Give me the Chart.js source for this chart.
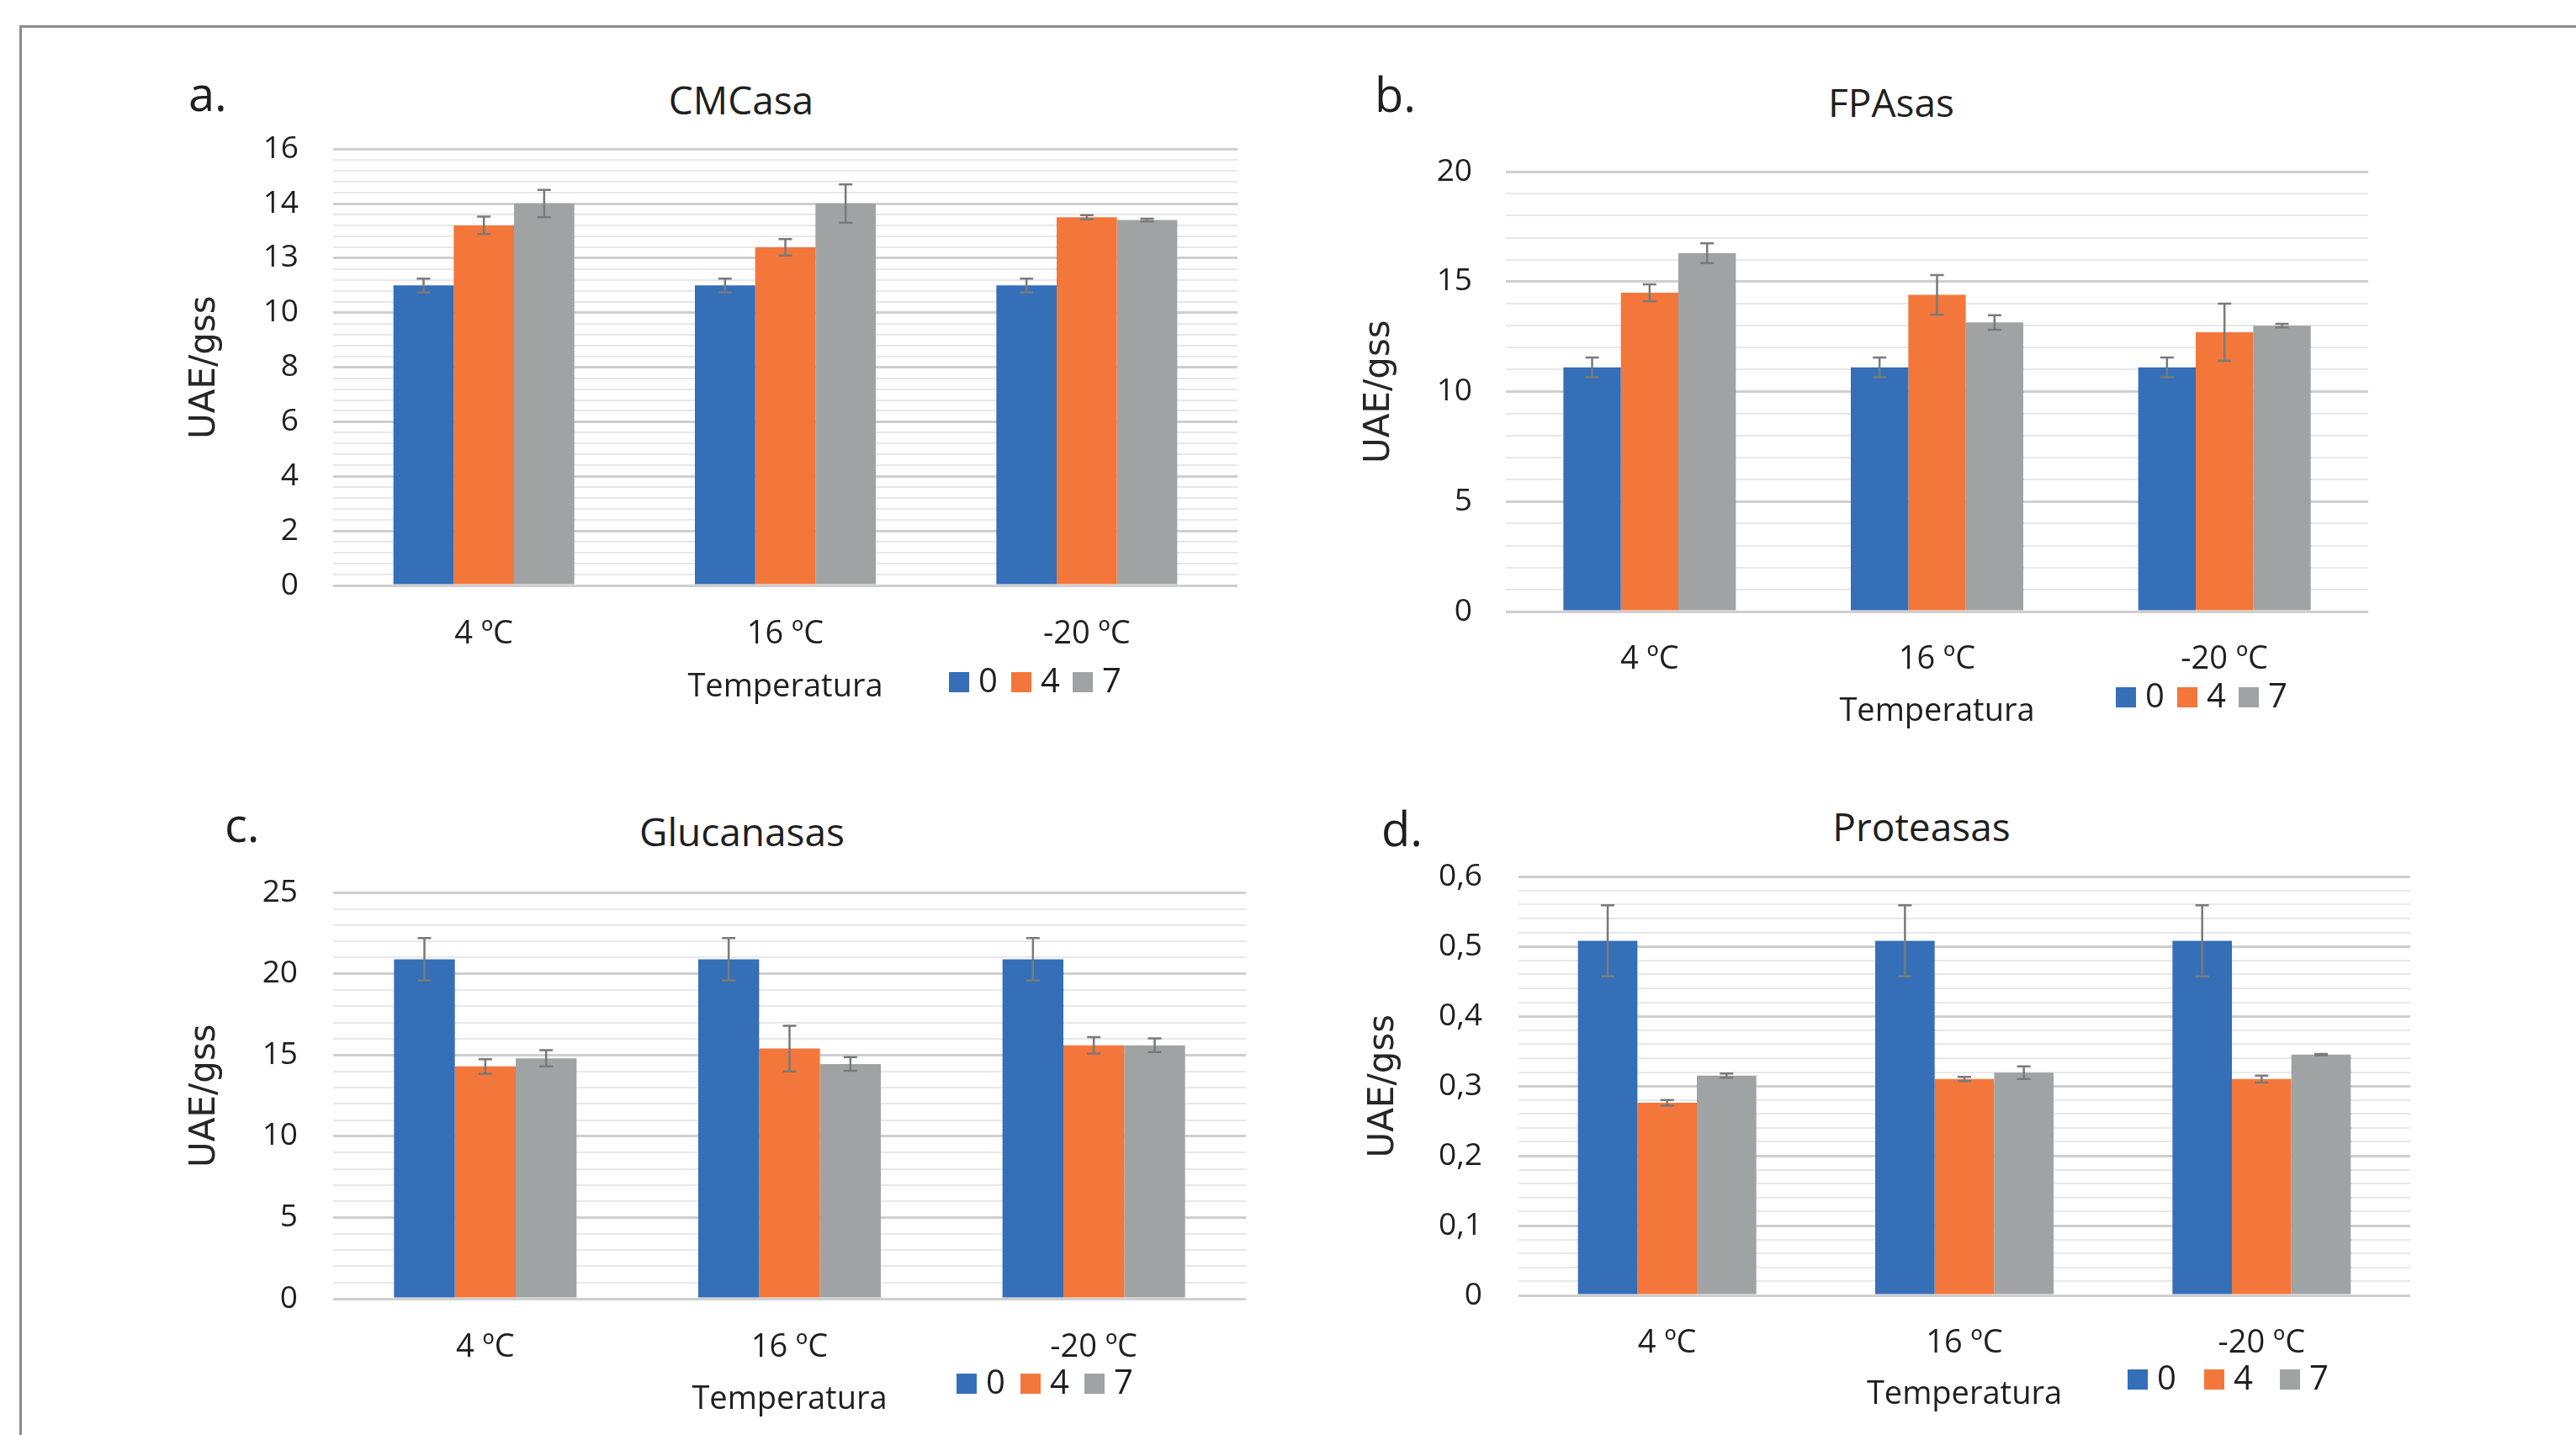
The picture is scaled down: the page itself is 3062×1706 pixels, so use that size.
<!DOCTYPE html>
<html lang="es">
<head>
<meta charset="UTF-8">
<title>Actividad enzimática</title>
<script src="https://cdn.jsdelivr.net/npm/chart.js@4"></script>
<style>
  body { margin:0; background:#fff; width:3062px; height:1706px; position:relative; overflow:hidden;
         font-family:'Open Sans', sans-serif; color:#1f1f1f; }
  .frame { position:absolute; left:23px; top:30px; right:-10px; bottom:-10px;
           border-top:3px solid #8c8c8c; border-left:3px solid #8c8c8c; }
  canvas { position:absolute; }
  .lbl { position:absolute; font-size:56px; line-height:56px; white-space:nowrap; }
  .ttl { position:absolute; font-size:46px; line-height:46px; transform:translateX(-50%); white-space:nowrap; }
</style>
</head>
<body>
<div class="frame"></div>

<div class="lbl" style="left:224px;top:82px">a.</div>
<div class="lbl" style="left:1634px;top:83px">b.</div>
<div class="lbl" style="left:267px;top:951px">c.</div>
<div class="lbl" style="left:1642px;top:956px">d.</div>

<div class="ttl" style="left:881px;top:95px">CMCasa</div>
<div class="ttl" style="left:2248px;top:98px">FPAsas</div>
<div class="ttl" style="left:882px;top:965px">Glucanasas</div>
<div class="ttl" style="left:2284px;top:959px">Proteasas</div>

<canvas id="chartA"></canvas>
<canvas id="chartB"></canvas>
<canvas id="chartC"></canvas>
<canvas id="chartD"></canvas>

<script>
// categories and series (days of storage)
const categories = ['4 ºC', '16 ºC', '-20 ºC'];
const seriesNames = ['0', '4', '7'];
const seriesColors = ['#346fb8', '#f3773b', '#a0a3a4'];

// a. CMCasa
const cmcasa0 = [11.0, 11.0, 11.0];
const cmcasa4 = [13.2, 12.4, 13.5];
const cmcasa7 = [14.0, 14.0, 13.4];
const cmcasaErr0 = [0.25, 0.25, 0.25];
const cmcasaErr4 = [0.32, 0.3, 0.08];
const cmcasaErr7 = [0.5, 0.7, 0.05];
const cmcasaTicks = ['0', '2', '4', '6', '8', '10', '13', '14', '16'];

// b. FPAsas
const fpasas0 = [11.1, 11.1, 11.1];
const fpasas4 = [14.5, 14.4, 12.7];
const fpasas7 = [16.3, 13.15, 13.0];
const fpasasErr0 = [0.45, 0.45, 0.45];
const fpasasErr4 = [0.38, 0.9, 1.3];
const fpasasErr7 = [0.45, 0.33, 0.08];
const fpasasTicks = ['0', '5', '10', '15', '20'];

// c. Glucanasas
const gluc0 = [20.9, 20.9, 20.9];
const gluc4 = [14.3, 15.4, 15.6];
const gluc7 = [14.8, 14.45, 15.6];
const glucErr0 = [1.3, 1.3, 1.3];
const glucErr4 = [0.45, 1.4, 0.5];
const glucErr7 = [0.5, 0.42, 0.42];
const glucTicks = ['0', '5', '10', '15', '20', '25'];

// d. Proteasas
const prot0 = [0.508, 0.508, 0.508];
const prot4 = [0.276, 0.31, 0.31];
const prot7 = [0.315, 0.319, 0.345];
const protErr0 = [0.051, 0.051, 0.051];
const protErr4 = [0.004, 0.003, 0.005];
const protErr7 = [0.003, 0.009, 0.001];
const protTicks = ['0', '0,1', '0,2', '0,3', '0,4', '0,5', '0,6'];

Chart.defaults.font.family = "'Open Sans', sans-serif";
Chart.defaults.color = '#1f1f1f';

const errorBars = {
  id: 'errorBars',
  afterDatasetsDraw(chart, args, opts) {
    const {ctx} = chart;
    const y = chart.scales.y;
    ctx.save();
    ctx.strokeStyle = opts.color;
    ctx.lineWidth = opts.width;
    chart.data.datasets.forEach((ds, i) => {
      chart.getDatasetMeta(i).data.forEach((bar, j) => {
        const v = ds.data[j], e = ds.errors[j];
        const top = y.getPixelForValue(v + e);
        const bot = y.getPixelForValue(v - e);
        ctx.beginPath();
        ctx.moveTo(bar.x, top); ctx.lineTo(bar.x, bot);
        ctx.moveTo(bar.x - opts.cap, top); ctx.lineTo(bar.x + opts.cap, top);
        ctx.moveTo(bar.x - opts.cap, bot); ctx.lineTo(bar.x + opts.cap, bot);
        ctx.stroke();
      });
    });
    ctx.restore();
  }
};

// legend drawn on the same row as the axis title, like the Excel original
const swatchLegend = {
  id: 'swatchLegend',
  afterDraw(chart, args, opts) {
    const {ctx} = chart;
    ctx.save();
    ctx.font = opts.font;
    ctx.textBaseline = 'alphabetic';
    ctx.textAlign = 'left';
    chart.data.datasets.forEach((ds, i) => {
      const x = opts.xs[i] - opts.originX;
      const y = opts.top - opts.originY;
      ctx.fillStyle = ds.backgroundColor;
      ctx.fillRect(x, y, opts.size, opts.size);
      ctx.fillStyle = opts.color;
      ctx.fillText(ds.label, x + opts.size + 11, y + opts.size);
    });
    ctx.restore();
  }
};

function makeChart(id, g, values, errors, tickLabels, max, step, major) {
  const canvas = document.getElementById(id);
  canvas.width = g.cw;
  canvas.height = g.ch;
  canvas.style.left = g.cx + 'px';
  canvas.style.top = g.cy + 'px';
  const isMajor = v => Math.abs(v / major - Math.round(v / major)) < 1e-6;

  return new Chart(canvas, {
    type: 'bar',
    data: {
      labels: categories,
      datasets: seriesNames.map((name, i) => ({
        label: name,
        data: values[i],
        errors: errors[i],
        backgroundColor: seriesColors[i],
        borderWidth: 0,
        categoryPercentage: 0.6,
        barPercentage: 1.0
      }))
    },
    options: {
      responsive: false,
      animation: false,
      layout: { padding: { left: 0, top: 0, right: g.padRight, bottom: 0 } },
      plugins: {
        legend: { display: false },
        tooltip: { enabled: false },
        errorBars: { color: '#7a7a7a', width: 2.5, cap: 8 },
        swatchLegend: { xs: g.legendXs, top: g.legendTop, size: 24, originX: g.cx, originY: g.cy,
                        font: "40px 'Open Sans'", color: '#1f1f1f' }
      },
      scales: {
        x: {
          grid: { display: false },
          border: { display: false },
          ticks: { font: { size: 38 }, color: '#1f1f1f', padding: g.xTickPad, maxRotation: 0, autoSkip: false },
          title: { display: true, text: 'Temperatura', font: { size: 38 }, color: '#1f1f1f',
                   padding: { top: 0, bottom: g.xTitlePad } },
          afterFit: s => { s.height = g.xHeight; }
        },
        y: {
          min: 0,
          max: max,
          border: { display: false },
          grid: {
            drawTicks: false,
            color: c => isMajor(c.tick.value) ? '#cfcfcf' : '#e8e8e8',
            lineWidth: c => isMajor(c.tick.value) ? 3 : 2
          },
          ticks: {
            stepSize: step,
            autoSkip: false,
            padding: g.yTickPad,
            font: { size: 37 },
            color: '#1f1f1f',
            callback: v => isMajor(v) ? tickLabels[Math.round(v / major)] : ''
          },
          title: { display: true, text: 'UAE/gss', color: '#262626',
                   font: { family: "'DejaVu Sans', sans-serif", size: 42 },
                   padding: { top: g.yTitlePad, bottom: 0 } },
          afterFit: s => { s.width = g.yWidth; }
        }
      }
    },
    plugins: [errorBars, swatchLegend]
  });
}

// canvas top sits one half tick label + tick padding above the plot top
makeChart('chartA',
  { cx: 150, cy: 114, cw: 1400, ch: 786, padRight: 79, yWidth: 246, xHeight: 204,
    yTitlePad: 69, yTickPad: 41, xTickPad: 27, xTitlePad: 60, legendXs: [1128, 1202, 1275], legendTop: 799 },
  [cmcasa0, cmcasa4, cmcasa7], [cmcasaErr0, cmcasaErr4, cmcasaErr7], cmcasaTicks, 16, 0.4, 2);

makeChart('chartB',
  { cx: 1550, cy: 142, cw: 1450, ch: 758, padRight: 185, yWidth: 240, xHeight: 173,
    yTitlePad: 65, yTickPad: 40, xTickPad: 26, xTitlePad: 31, legendXs: [2515, 2588, 2661], legendTop: 817 },
  [fpasas0, fpasas4, fpasas7], [fpasasErr0, fpasasErr4, fpasasErr7], fpasasTicks, 20, 1, 5);

makeChart('chartC',
  { cx: 150, cy: 997, cw: 1400, ch: 709, padRight: 69, yWidth: 246, xHeight: 162,
    yTitlePad: 69, yTickPad: 42, xTickPad: 27, xTitlePad: 19, legendXs: [1137, 1213, 1289], legendTop: 1633 },
  [gluc0, gluc4, gluc7], [glucErr0, glucErr4, glucErr7], glucTicks, 25, 1, 5);

makeChart('chartD',
  { cx: 1550, cy: 977, cw: 1450, ch: 729, padRight: 135, yWidth: 255, xHeight: 166,
    yTitlePad: 70, yTickPad: 43, xTickPad: 26, xTitlePad: 25, legendXs: [2529, 2620, 2710], legendTop: 1628 },
  [prot0, prot4, prot7], [protErr0, protErr4, protErr7], protTicks, 0.6, 0.02, 0.1);
</script>
</body>
</html>
